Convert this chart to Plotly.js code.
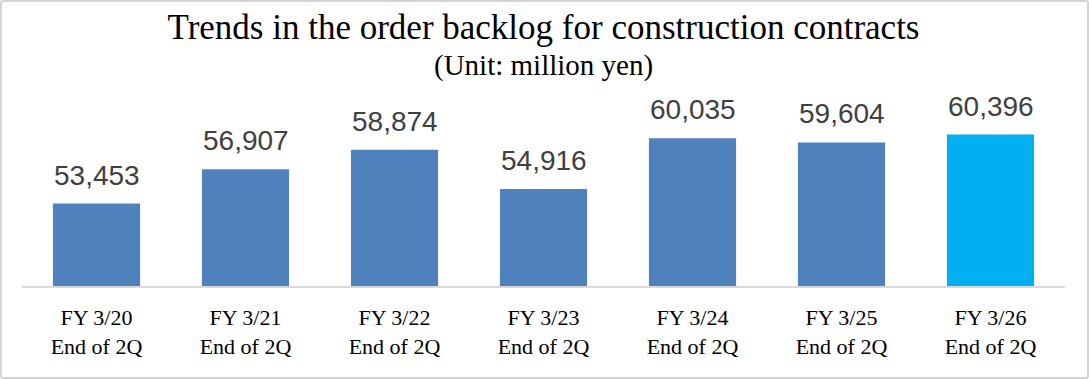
<!DOCTYPE html>
<html>
<head>
<meta charset="utf-8">
<script src="https://cdn.plot.ly/plotly-3.0.1.min.js"></script>
<style>
  html, body { margin: 0; padding: 0; background: #fff; }
  #wrap { position: relative; width: 1089px; height: 379px; }
  #chart { width: 1089px; height: 379px; }
  #frame { position: absolute; left: 0; top: 0; width: 1089px; height: 379px; box-sizing: border-box;
           border: 2px solid #d4d4d4; border-radius: 3px; pointer-events: none; }
</style>
</head>
<body>
<div id="wrap">
  <div id="chart"></div>
  <div id="frame"></div>
</div>
<script>
const categories = [
  "FY 3/20<br>End of 2Q",
  "FY 3/21<br>End of 2Q",
  "FY 3/22<br>End of 2Q",
  "FY 3/23<br>End of 2Q",
  "FY 3/24<br>End of 2Q",
  "FY 3/25<br>End of 2Q",
  "FY 3/26<br>End of 2Q"
];
const backlog = [53453, 56907, 58874, 54916, 60035, 59604, 60396];
const barColors = ["#4f81bd", "#4f81bd", "#4f81bd", "#4f81bd", "#4f81bd", "#4f81bd", "#00b0f0"];
const titleText = "Trends in the order backlog for construction contracts";
const subtitleText = "(Unit: million yen)";

const trace = {
  type: "bar",
  x: categories,
  y: backlog,
  marker: { color: barColors, line: { width: 0 } },
  hoverinfo: "none"
};

const labelAnnotations = categories.map((c, i) => ({
  x: c, y: backlog[i], xref: "x", yref: "y",
  text: backlog[i].toLocaleString("en-US"),
  showarrow: false, yanchor: "bottom", yshift: 11,
  font: { family: "Liberation Sans, Arial, sans-serif", size: 28, color: "#404040" }
}));

const layout = {
  width: 1089, height: 379,
  margin: { l: 22, r: 24, t: 88, b: 93, pad: 0 },
  paper_bgcolor: "#ffffff", plot_bgcolor: "#ffffff",
  showlegend: false,
  bargap: 0.415,
  title: {
    text: titleText,
    font: { family: "Liberation Serif, Times New Roman, serif", size: 35, color: "#000000" },
    x: 0.5, xanchor: "center", xref: "paper",
    y: 0.929, yanchor: "middle", yref: "container"
  },
  xaxis: {
    type: "category",
    showline: true, linecolor: "#d9d9d9", linewidth: 1.5,
    showgrid: false, zeroline: false, ticks: "",
    ticklabelstandoff: 11,
    tickfont: { family: "Liberation Serif, Times New Roman, serif", size: 22, color: "#000000" }
  },
  yaxis: {
    range: [45160, 65080], visible: false, showgrid: false, zeroline: false, fixedrange: true
  },
  annotations: labelAnnotations.concat([{
    xref: "paper", yref: "paper", x: 0.5, y: 1, xanchor: "center", yanchor: "bottom", yshift: 4,
    text: subtitleText, showarrow: false,
    font: { family: "Liberation Serif, Times New Roman, serif", size: 29, color: "#000000" }
  }])
};

Plotly.newPlot("chart", [trace], layout, { staticPlot: true, displayModeBar: false });
</script>
</body>
</html>
